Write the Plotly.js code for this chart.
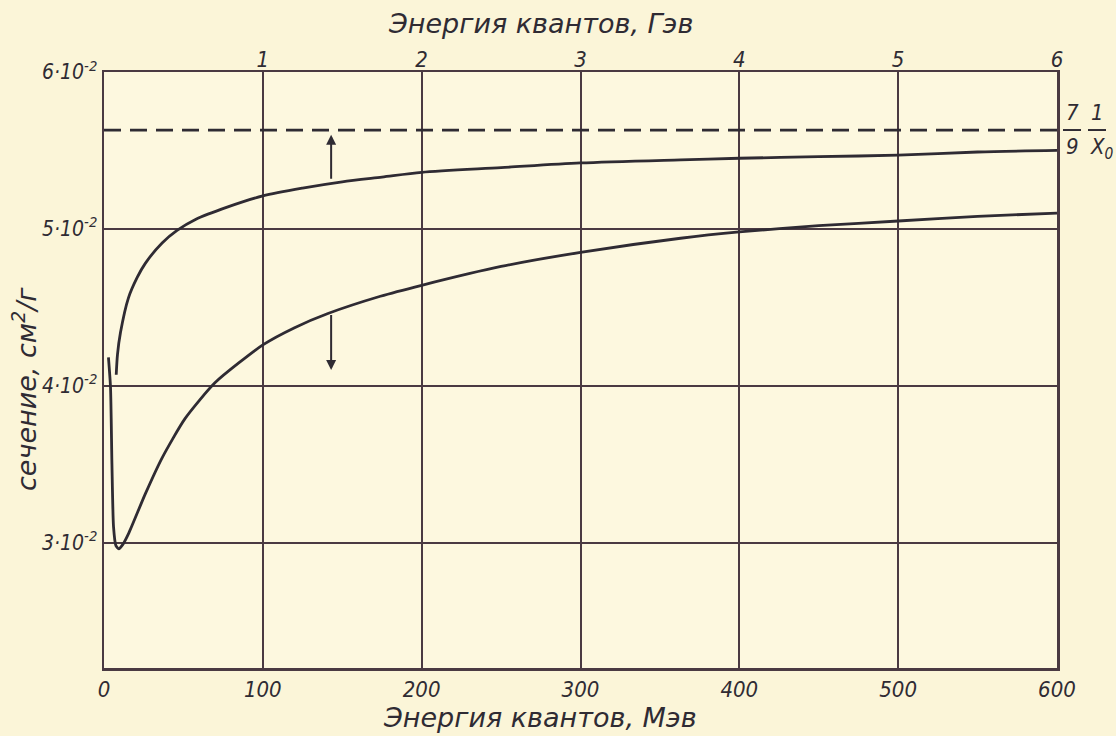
<!DOCTYPE html>
<html>
<head>
<meta charset="utf-8">
<script src="https://cdn.plot.ly/plotly-3.0.1.min.js"></script>
<style>
  html, body { margin: 0; padding: 0; background: #fbf5d8; }
  #chart { width: 1116px; height: 736px; }
</style>
</head>
<body>
<div id="chart"></div>
<script>
// Energy, MeV (bottom axis)
const upperX = [7.7, 8.5, 10.4, 15.4, 20.9, 26, 36.6, 46, 57.6, 78, 100, 125, 150, 175, 200, 250, 300, 363, 400, 450, 500, 550, 600];
const upperY = [0.0407, 0.0420, 0.0434, 0.0456, 0.0469, 0.0478, 0.0491, 0.0499, 0.0506, 0.0514, 0.0521, 0.0526, 0.0530, 0.0533, 0.0536, 0.0539, 0.0542, 0.0544, 0.0545, 0.0546, 0.0547, 0.0549, 0.0550];

const lowerX = [2.8, 4.1, 5.0, 6.0, 7.5, 9.3, 12, 15.6, 26, 36.6, 51, 70, 100, 120, 141, 174, 200, 250, 300, 363, 400, 450, 500, 550, 600];
const lowerY = [0.0418, 0.0399, 0.0350, 0.0310, 0.0298, 0.0296, 0.0299, 0.0306, 0.0331, 0.0354, 0.0379, 0.0402, 0.0426, 0.0437, 0.0446, 0.0457, 0.0464, 0.0476, 0.0485, 0.0494, 0.0498, 0.0502, 0.0505, 0.0508, 0.0510];

// Asymptote 7/9 * 1/X0
const asymX = [0, 600];
const asymY = [0.0563, 0.0563];

// Tick labels
const bottomTickVals = [0, 100, 200, 300, 400, 500, 600];
const bottomTickText = ['0', '100', '200', '300', '400', '500', '600'];
const topTickVals = [100, 200, 300, 400, 500, 600];
const topTickText = ['1', '2', '3', '4', '5', '6'];
const yTickVals = [0.03, 0.04, 0.05, 0.06];
const yTickText = ['3·10<sup>-2</sup>', '4·10<sup>-2</sup>', '5·10<sup>-2</sup>', '6·10<sup>-2</sup>'];

// Titles
const topTitle = 'Энергия квантов, Гэв';
const bottomTitle = 'Энергия квантов, Мэв';
const yTitle = 'сечение, см<sup>2</sup>/г';

// Arrow position (MeV)
const arrowX = 143;

const ink = '#2f2b33';
const gridCol = '#4a3a42';
const wideFont = '"DejaVu Sans", "Liberation Sans", sans-serif';
const narrowFont = '"Liberation Sans Narrow", "DejaVu Sans Condensed", "Liberation Sans", sans-serif';
const tickFont = { family: narrowFont, size: 22, color: ink, style: 'italic' };
const yTickFont = { family: narrowFont, size: 21, color: ink, style: 'italic' };
const titleFont = { family: wideFont, size: 27, color: ink, style: 'italic' };

const traces = [
  { x: upperX, y: upperY, mode: 'lines', line: { color: ink, width: 2.8, shape: 'spline', smoothing: 0.8 }, hoverinfo: 'skip', showlegend: false },
  { x: lowerX, y: lowerY, mode: 'lines', line: { color: ink, width: 2.8, shape: 'spline', smoothing: 0.6 }, hoverinfo: 'skip', showlegend: false },
  { x: asymX, y: asymY, xaxis: 'x2', mode: 'lines', line: { color: ink, width: 2.8, dash: '17px,9px' }, hoverinfo: 'skip', showlegend: false }
];

const layout = {
  width: 1116,
  height: 736,
  paper_bgcolor: '#fbf5d8',
  plot_bgcolor: '#fdf8df',
  margin: { l: 104, r: 59, t: 72, b: 68 },
  showlegend: false,
  xaxis: {
    range: [0, 600],
    tickvals: bottomTickVals,
    ticktext: bottomTickText,
    showgrid: true,
    gridcolor: gridCol,
    gridwidth: 2,
    zeroline: false,
    showline: true,
    mirror: true,
    linecolor: gridCol,
    linewidth: 2.5,
    ticks: '',
    tickfont: tickFont,
    ticklabelstandoff: 0
  },
  xaxis2: {
    range: [0, 600],
    overlaying: 'x',
    side: 'top',
    tickvals: topTickVals,
    ticktext: topTickText,
    showgrid: false,
    zeroline: false,
    showline: false,
    ticks: '',
    tickfont: tickFont,
    ticklabelstandoff: 0
  },
  yaxis: {
    range: [0.022, 0.06],
    tickvals: yTickVals,
    ticktext: yTickText,
    showgrid: true,
    gridcolor: gridCol,
    gridwidth: 2,
    zeroline: false,
    showline: true,
    mirror: true,
    linecolor: gridCol,
    linewidth: 2.5,
    ticks: '',
    tickfont: yTickFont,
    ticklabelstandoff: 0
  },
  annotations: [
    // titles
    { xref: 'paper', yref: 'paper', x: (540 - 104) / 953, y: 1 + (72 - 23) / 596, xanchor: 'center', yanchor: 'middle', showarrow: false, text: topTitle, font: titleFont },
    { xref: 'paper', yref: 'paper', x: (540 - 104) / 953, y: -(717 - 668) / 596, xanchor: 'center', yanchor: 'middle', showarrow: false, text: bottomTitle, font: titleFont },
    { xref: 'paper', yref: 'paper', x: -(104 - 24) / 953, y: (668 - 389) / 596, xanchor: 'center', yanchor: 'middle', textangle: -90, showarrow: false, text: yTitle, font: titleFont },
    // arrows
    { x: arrowX, y: 0.0560, ax: arrowX, ay: 0.0531, xref: 'x', yref: 'y', axref: 'x', ayref: 'y', showarrow: true, arrowhead: 2, arrowsize: 1, arrowwidth: 2, arrowcolor: ink, text: '' },
    { x: arrowX, y: 0.0410, ax: arrowX, ay: 0.0446, xref: 'x', yref: 'y', axref: 'x', ayref: 'y', showarrow: true, arrowhead: 2, arrowsize: 1, arrowwidth: 2, arrowcolor: ink, text: '' },
    // 7/9 * 1/X0 label
    { xref: 'paper', yref: 'y', x: (1072 - 104) / 953, y: 0.0565, xanchor: 'center', yanchor: 'bottom', showarrow: false, text: '7', font: tickFont },
    { xref: 'paper', yref: 'y', x: (1097 - 104) / 953, y: 0.0565, xanchor: 'center', yanchor: 'bottom', showarrow: false, text: '1', font: tickFont },
    { xref: 'paper', yref: 'y', x: (1072 - 104) / 953, y: 0.0562, xanchor: 'center', yanchor: 'top', showarrow: false, text: '9', font: tickFont },
    { xref: 'paper', yref: 'y', x: (1088 - 104) / 953, y: 0.0562, xanchor: 'left', yanchor: 'top', showarrow: false, text: 'X<sub>0</sub>', font: tickFont }
  ],
  shapes: [
    { type: 'line', xref: 'paper', yref: 'y', x0: (1063 - 104) / 953, x1: (1081 - 104) / 953, y0: 0.0563, y1: 0.0563, line: { color: ink, width: 2 } },
    { type: 'line', xref: 'paper', yref: 'y', x0: (1088 - 104) / 953, x1: (1106 - 104) / 953, y0: 0.0563, y1: 0.0563, line: { color: ink, width: 2 } }
  ]
};

Plotly.newPlot('chart', traces, layout, { displayModeBar: false, staticPlot: true });
</script>
</body>
</html>
